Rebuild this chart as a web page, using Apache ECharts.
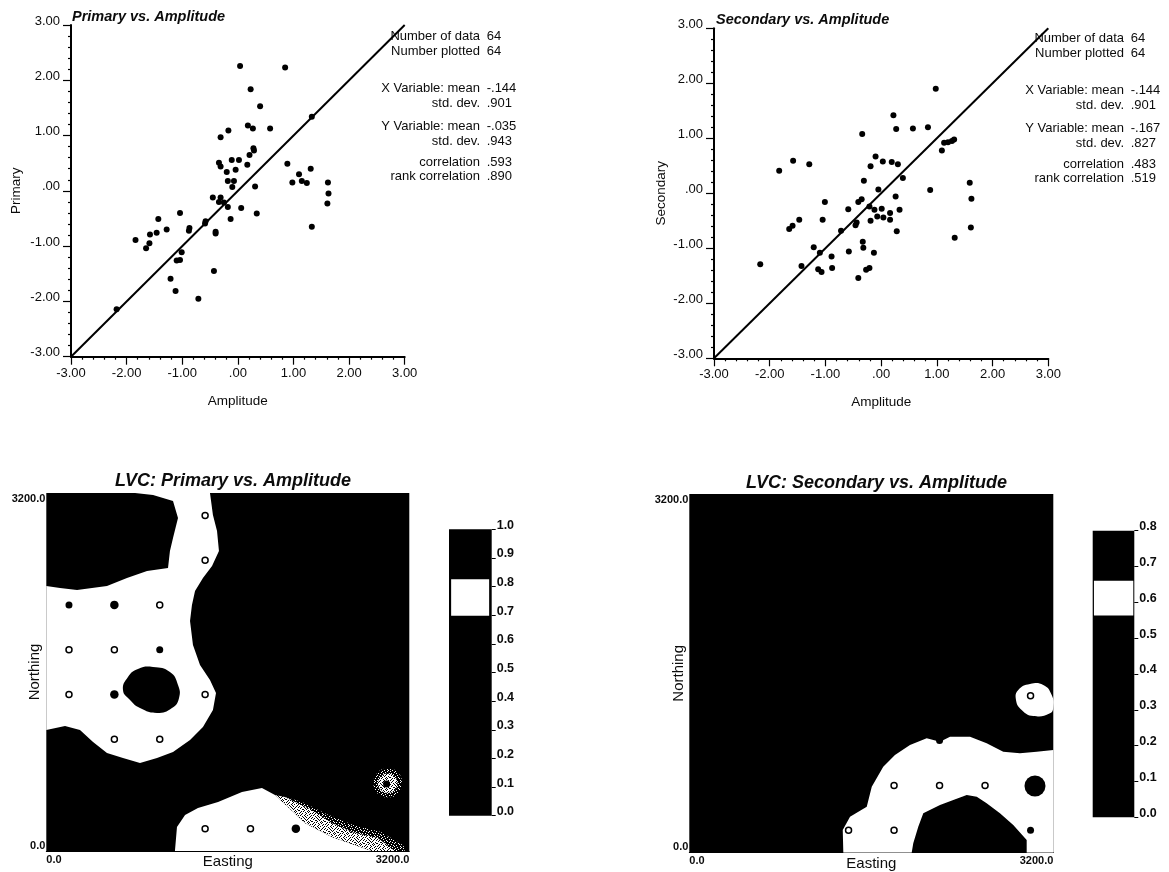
<!DOCTYPE html>
<html>
<head>
<meta charset="utf-8">
<title>LVC maps</title>
<script src="https://cdn.jsdelivr.net/npm/echarts@6/dist/echarts.min.js"></script>
<style>
  html, body { margin: 0; padding: 0; background: #fff; }
  #chart { width: 1169px; height: 872px; }
</style>
</head>
<body>
<div id="chart"></div>
<script>
// scatter values: [Amplitude, Primary]
const primaryPoints = [
  [.04,2.26],[.85,2.23],[.23,1.84],[.40,1.53],[1.33,1.34],[.18,1.18],[.27,1.13],[.58,1.13],
  [-.17,1.09],[-.31,.97],[.28,.77],[.29,.73],[.21,.65],[-.11,.56],[.02,.56],[-.34,.51],
  [-.31,.44],[.17,.47],[-.04,.38],[-.20,.34],[.89,.49],[1.10,.30],[1.31,.40],[.98,.15],
  [1.15,.18],[1.24,.14],[1.62,.15],[1.63,-.05],[1.61,-.23],[-.18,.18],[-.07,.18],[-.10,.07],
  [.31,.08],[-.45,-.12],[-.31,-.12],[-.34,-.20],[-.25,-.21],[-.18,-.29],[.06,-.31],[.34,-.41],
  [-1.04,-.40],[-.13,-.51],[-1.43,-.51],[-.58,-.55],[-.59,-.59],[-.87,-.67],[-.88,-.72],[-1.28,-.70],
  [-.40,-.74],[-.40,-.77],[-1.46,-.76],[-1.58,-.79],[-1.84,-.89],[-1.59,-.95],[-1.65,-1.04],[-1.01,-1.11],
  [-1.04,-1.25],[-1.10,-1.26],[1.33,-.65],[-.43,-1.45],[-1.21,-1.59],[-1.12,-1.81],[-.71,-1.95],[-2.18,-2.14]
]
// [Amplitude, Secondary]
const secondaryPoints = [
  [.98,1.90],[.22,1.42],[.27,1.17],[.57,1.18],[.84,1.20],[-.34,1.08],[1.31,.98],[1.27,.95],
  [1.20,.93],[1.13,.92],[1.09,.78],[-.10,.67],[.03,.58],[.19,.57],[.30,.53],[-.19,.49],
  [-1.58,.59],[-1.29,.53],[-1.83,.41],[.39,.28],[-.31,.23],[-.05,.07],[.88,.06],[1.59,.19],
  [1.62,-.10],[.26,-.06],[-.35,-.11],[-.41,-.16],[-1.01,-.16],[-.59,-.29],[-.21,-.24],[-.12,-.30],
  [.01,-.28],[.16,-.36],[.33,-.30],[-.07,-.42],[.04,-.44],[.16,-.48],[-.19,-.50],[-1.05,-.48],
  [-1.47,-.48],[-1.59,-.59],[-1.65,-.65],[-.44,-.53],[-.46,-.58],[-.72,-.68],[.28,-.69],[1.61,-.62],
  [1.32,-.81],[-.33,-.88],[-.32,-.99],[-1.21,-.98],[-.58,-1.06],[-1.10,-1.08],[-.13,-1.08],[-.89,-1.15],
  [-2.17,-1.29],[-1.43,-1.32],[-.88,-1.36],[-1.13,-1.38],[-1.07,-1.43],[-.21,-1.36],[-.27,-1.39],[-.41,-1.54]
]
const diagonal = [[-3, -3], [3, 3]]

// stats text next to the scatter plots
const statNames = ['Number of data', 'Number plotted', 'X Variable: mean', 'std. dev.', 'Y Variable: mean', 'std. dev.', 'correlation', 'rank correlation']
const primaryStats = ['64', '64', '-.144', '.901', '-.035', '.943', '.593', '.890']
const secondaryStats = ['64', '64', '-.144', '.901', '-.167', '.827', '.483', '.519']
const statRows = [36, 51, 88, 103, 126, 141, 162, 176]

// map regions, [Easting, Northing]
const primaryWhite = [
  [782,3200],[1443,3200],[1469,3004],[1505,2861],[1522,2682],[1461,2548],[1381,2441],[1311,2324],[1284,2199],
  [1267,2056],[1293,1842],[1355,1663],[1443,1529],[1496,1413],[1469,1261],[1381,1109],[1267,992],[1117,885],
  [976,831],[826,787],[676,831],[535,876],[412,974],[297,1082],[165,1118],[0,1082],[0,2369],[121,2351],
  [271,2333],[535,2369],[711,2441],[888,2503],[1073,2530],[1090,2682],[1117,2798],[1161,2977],[1117,3129],[941,3183]
]
const primaryHole = [
  [941,1645],[1090,1600],[1161,1484],[1170,1368],[1108,1278],[976,1234],[826,1278],[738,1350],[676,1439],[720,1556],[808,1627]
]
const primaryLower = [
  [1134,0],[1152,215],[1223,322],[1337,384],[1514,438],[1725,527],[1901,563],[2016,501],[2131,393],[2280,250],[2518,125],[2871,0]
]
const primarySpeckle = [
  [2016,501],[2104,483],[2342,367],[2518,250],[2695,170],[2924,116],[3074,0],[2871,0],[2518,125],[2280,250],[2131,393]
]
const primaryFringe = [
  [2104,483],[2250,440],[2470,330],[2700,235],[2950,170],[3150,50],[3160,0],[3074,0],[2924,116],[2695,170],[2518,250],[2342,367]
]
const primaryHalo = [[3009,690],[3070,665],[3095,605],[3070,545],[3009,520],[2950,545],[2925,605],[2950,665]]
const primaryHaloFringe = [[3009,735],[3100,700],[3135,605],[3100,515],[3009,480],[2920,515],[2885,605],[2920,700]]
const secondaryWhite = [
  [1354,0],[1349,202],[1413,321],[1560,410],[1604,589],[1705,767],[1808,871],[1940,961],[2087,1020],[2204,990],
  [2292,1035],[2468,1035],[2614,976],[2760,901],[2907,887],[3054,901],[3200,916],[3200,0],[2966,0],[2966,113],
  [2848,247],[2731,351],[2614,441],[2527,500],[2439,515],[2321,470],[2204,425],[2057,351],[2013,232],[1969,84],[1955,0]
]
const secondaryIsland = [
  [2995,1505],[3112,1496],[3186,1407],[3200,1302],[3171,1243],[3024,1219],[2922,1273],[2872,1362],[2892,1451]
]

// sample locations on the maps
const primaryOpen = [[1400,3000],[1400,2600],[1000,2200],[200,1800],[600,1800],[200,1400],[1400,1400],[600,1000],[1000,1000],[1400,200],[1800,200]]
const primaryFilled = [[200,2200],[1000,1800],[3000,600]]
const primaryBig = [[600,2200],[600,1400],[2200,200]]
const secondaryOpen = [[1400,200],[1800,200],[1800,600],[2200,600],[2600,600],[3000,1400]]
const secondaryFilled = [[3000,200],[2200,1000]]
const secondaryBlob = [[3039,595]]

// white band on the two colour bars
const primaryBand = [[.05,.698],[.94,.698],[.94,.826],[.05,.826]]
const secondaryBand = [[.03,.563],[.976,.563],[.976,.66],[.03,.66]]

const FONT = '"Liberation Sans", Arial, sans-serif'
const INK = '#0c0c0c'

// dither tiles for the speckled edges of the lower region
const denseRows = ['1101110111011', '1011101101110', '1110110111101', '0111011011011', '1101101110110', '1011110101111', '1110011011101', '0111101110110', '1101011101011', '1011110110111', '0110111011101']
const sparseRows = ['0010000100010', '1000010000100', '0000100010000', '0100001000001', '0001000001000', '1000000100100', '0010010000001', '0000100010000', '0100000001010', '0001001000000', '1000100000100']
const makeTile = rows => {
  const tile = document.createElement('canvas')
  tile.width = rows[0].length
  tile.height = rows.length
  const ctx = tile.getContext('2d')
  ctx.fillStyle = '#000'
  ctx.fillRect(0, 0, tile.width, tile.height)
  ctx.fillStyle = '#fff'
  rows.forEach((row, y) => row.split('').forEach((c, x) => { if (c === '1') ctx.fillRect(x, y, 1, 1) }))
  return { image: tile, repeat: 'repeat' }
}
const dense = makeTile(denseRows)
const sparse = makeTile(sparseRows)

// one polygon, drawn through the axes of its grid
const region = (idx, outline, fill, z, smooth) => ({
  type: 'custom',
  coordinateSystem: 'cartesian2d',
  xAxisIndex: idx,
  yAxisIndex: idx,
  silent: true,
  z: z,
  clip: true,
  data: outline,
  encode: { x: 0, y: 1 },
  renderItem: (params, api) => {
    if (params.dataIndex !== 0) return
    return { type: 'polygon', shape: { points: outline.map(p => api.coord(p)), smooth: smooth || 0 }, style: { fill: fill } }
  }
})

const dots = (idx, data, size, color, border) => ({
  type: 'scatter',
  xAxisIndex: idx,
  yAxisIndex: idx,
  data: data,
  symbolSize: size,
  silent: true,
  z: 5,
  itemStyle: { color: color, opacity: 1, borderColor: border || color, borderWidth: border ? 1.5 : 0 }
})

const scatterGrid = (left, top, width, height) => ({ left, top, width, height, outerBoundsMode: 'none' })
const plainGrid = (left, top, width, height) => ({
  left, top, width, height, outerBoundsMode: 'none', show: true, backgroundColor: '#000', borderWidth: 0
})

const fmt2 = v => (v === 0 ? '.00' : v.toFixed(2))

const scatterAxis = (name, gap) => ({
  type: 'value',
  min: -3,
  max: 3,
  interval: 1,
  name: name,
  nameLocation: 'middle',
  nameGap: gap,
  nameMoveOverlap: false,
  nameTextStyle: { fontFamily: FONT, fontSize: 13.5, color: INK },
  axisLine: { show: true, onZero: false, lineStyle: { color: '#000', width: 2 } },
  axisTick: { show: true, length: 8, lineStyle: { color: '#000', width: 1.2 } },
  minorTick: { show: true, splitNumber: 5, length: 3, lineStyle: { color: '#000', width: 1.2 } },
  splitLine: { show: false },
  minorSplitLine: { show: false }
})
const scatterX = name => Object.assign(scatterAxis(name, 38), {
  axisLabel: { formatter: fmt2, fontFamily: FONT, fontSize: 13, color: INK, margin: 10 }
})
const scatterY = name => Object.assign(scatterAxis(name, 48), {
  axisLabel: { formatter: fmt2, fontFamily: FONT, fontSize: 13, color: INK, margin: 11, verticalAlign: 'bottom', lineHeight: 8 }
})

const mapX = () => ({
  type: 'value', min: 0, max: 3200, interval: 3200,
  name: 'Easting', nameLocation: 'middle', nameGap: 3,
  nameMoveOverlap: false,
  nameTextStyle: { fontFamily: FONT, fontSize: 15, color: INK },
  axisLine: { show: true, onZero: false, lineStyle: { color: '#000', width: 1 } },
  axisTick: { show: false },
  splitLine: { show: false },
  axisLabel: {
    formatter: v => v.toFixed(1), fontFamily: FONT, fontSize: 11, fontWeight: 'bold', color: INK, margin: 3,
    alignMinLabel: 'left', alignMaxLabel: 'right'
  }
})
const mapY = () => ({
  type: 'value', min: 0, max: 3200, interval: 3200,
  name: 'Northing', nameLocation: 'middle', nameGap: 4,
  nameMoveOverlap: false,
  nameTextStyle: { fontFamily: FONT, fontSize: 15, color: INK },
  axisLine: { show: false, onZero: false },
  axisTick: { show: false },
  splitLine: { show: false },
  axisLabel: {
    formatter: v => v.toFixed(1), fontFamily: FONT, fontSize: 11, fontWeight: 'bold', color: INK, margin: 1,
    verticalAlignMinLabel: 'bottom', verticalAlignMaxLabel: 'top'
  }
})

const barX = () => ({ type: 'value', min: 0, max: 1, show: false })
const barY = max => ({
  type: 'value', min: 0, max: max, interval: .1, position: 'right',
  axisLine: { show: false, onZero: false },
  axisTick: { show: true, length: 4, lineStyle: { color: '#000', width: 1 } },
  splitLine: { show: false },
  axisLabel: { formatter: v => v.toFixed(1), fontFamily: FONT, fontSize: 12.5, fontWeight: 'bold', color: INK, margin: 5, verticalAlign: 'bottom', lineHeight: 8 }
})

const statTexts = (nameX, valueX, dy, values) => {
  const out = []
  statNames.forEach((name, i) => {
    out.push({ type: 'text', style: { text: name, x: nameX, y: statRows[i] + dy, textAlign: 'right', textVerticalAlign: 'middle', font: '13px ' + FONT, fill: INK } })
    out.push({ type: 'text', style: { text: values[i], x: valueX, y: statRows[i] + dy, textAlign: 'left', textVerticalAlign: 'middle', font: '13px ' + FONT, fill: INK } })
  })
  return out
}

const titleItem = (text, left, top, size) => ({
  text: text, left: left, top: top, padding: 0,
  textStyle: { fontFamily: FONT, fontSize: size, fontWeight: 'bold', fontStyle: 'italic', color: INK }
})

const option = {
  animation: false,
  backgroundColor: '#fff',
  title: [
    titleItem('Primary vs. Amplitude', 72, 9, 14.5),
    titleItem('Secondary vs. Amplitude', 716, 12, 14.5),
    titleItem('LVC: Primary vs. Amplitude', 115, 472, 18),
    titleItem('LVC: Secondary vs. Amplitude', 746, 474, 18)
  ],
  grid: [
    scatterGrid(71, 25, 333.7, 331.7),
    scatterGrid(714, 28.3, 334.3, 330),
    plainGrid(46.3, 493, 363, 358),
    plainGrid(689.3, 494, 364, 358.7),
    plainGrid(449, 529.3, 42.7, 286.4),
    plainGrid(1092.7, 530.7, 41.6, 286.6)
  ],
  xAxis: [
    Object.assign(scatterX('Amplitude'), { gridIndex: 0, nameGap: 38 }),
    Object.assign(scatterX('Amplitude'), { gridIndex: 1, nameGap: 37 }),
    Object.assign(mapX(), { gridIndex: 2, nameGap: 3 }),
    Object.assign(mapX(), { gridIndex: 3, nameGap: 4 }),
    Object.assign(barX(), { gridIndex: 4 }),
    Object.assign(barX(), { gridIndex: 5 })
  ],
  yAxis: [
    Object.assign(scatterY('Primary'), { gridIndex: 0, nameGap: 48 }),
    Object.assign(scatterY('Secondary'), { gridIndex: 1, nameGap: 46 }),
    Object.assign(mapY(), { gridIndex: 2, nameGap: 4 }),
    Object.assign(mapY(), { gridIndex: 3, nameGap: 3 }),
    Object.assign(barY(1), { gridIndex: 4 }),
    Object.assign(barY(.8), { gridIndex: 5 })
  ],
  series: [
    // scatter plots
    dots(0, primaryPoints, 6, '#000'),
    { type: 'line', xAxisIndex: 0, yAxisIndex: 0, data: diagonal, symbol: 'none', silent: true, z: 4, lineStyle: { color: '#000', width: 2 } },
    dots(1, secondaryPoints, 6, '#000'),
    { type: 'line', xAxisIndex: 1, yAxisIndex: 1, data: diagonal, symbol: 'none', silent: true, z: 4, lineStyle: { color: '#000', width: 2 } },
    // primary map
    region(2, primaryWhite, '#fff', 2),
    region(2, primaryHole, '#000', 3, .5),
    region(2, primaryLower, '#fff', 2),
    region(2, primarySpeckle, dense, 2),
    region(2, primaryFringe, sparse, 2),
    region(2, primaryHaloFringe, sparse, 2, .5),
    region(2, primaryHalo, dense, 3, .5),
    dots(2, primaryOpen, 6, '#fff', '#000'),
    dots(2, primaryFilled, 7, '#000'),
    dots(2, primaryBig, 8.5, '#000'),
    // secondary map
    region(3, secondaryWhite, '#fff', 2),
    region(3, secondaryIsland, '#fff', 2, .5),
    dots(3, secondaryOpen, 6, '#fff', '#000'),
    dots(3, secondaryFilled, 7, '#000'),
    dots(3, secondaryBlob, 21, '#000'),
    // colour bars
    region(4, primaryBand, '#fff', 2),
    region(5, secondaryBand, '#fff', 2)
  ],
  graphic: { elements: statTexts(480, 486.7, 0, primaryStats).concat(statTexts(1124, 1130.7, 2, secondaryStats)) }
}

const chart = echarts.init(document.getElementById('chart'))
chart.setOption(option)
</script>
</body>
</html>
